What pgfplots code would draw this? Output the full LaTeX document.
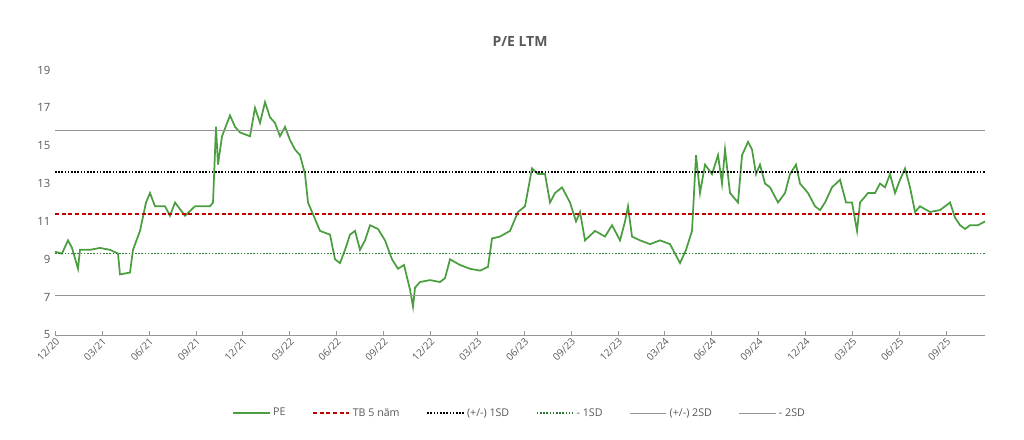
\documentclass[border=0pt]{standalone}
\usepackage{pgfplots}
\pgfplotsset{compat=1.18}
\usepackage{pgfplotstable}
\usepackage{fontspec}
\setmainfont{Open Sans}
\definecolor{pe}{RGB}{74,158,63}
\definecolor{txt}{RGB}{89,89,89}
\definecolor{mred}{RGB}{192,0,0}
\definecolor{sdg}{RGB}{46,125,50}
\definecolor{gl}{RGB}{150,150,150}
\pgfplotstableread{
px y
55 9.4
62 9.3
68 10.0
72 9.6
78 8.5
80 9.5
90 9.5
100 9.6
110 9.5
118 9.3
120 8.2
130 8.3
133 9.5
140 10.5
146 12.0
150 12.5
155 11.8
165 11.8
170 11.3
175 12.0
185 11.3
195 11.8
210 11.8
213 12.0
216 16.0
218 14.0
222 15.5
230 16.6
235 16.0
240 15.7
250 15.5
255 17.0
260 16.2
265 17.3
270 16.5
275 16.2
280 15.5
285 16.0
290 15.3
295 14.8
300 14.5
305 13.5
308 12.0
312 11.5
320 10.5
330 10.3
335 9.0
340 8.8
345 9.5
350 10.3
355 10.5
360 9.5
365 10.0
370 10.8
378 10.6
385 10.0
392 9.0
398 8.5
404 8.7
410 7.4
413 6.5
415 7.5
420 7.8
430 7.9
440 7.8
445 8.0
450 9.0
460 8.7
470 8.5
480 8.4
488 8.6
492 10.1
500 10.2
510 10.5
518 11.5
525 11.8
532 13.8
538 13.5
545 13.5
550 12.0
555 12.5
562 12.8
570 12.0
576 11.0
580 11.5
585 10.0
595 10.5
605 10.2
612 10.8
620 10.0
625 11.0
628 11.8
632 10.2
640 10.0
650 9.8
660 10.0
670 9.8
676 9.2
680 8.8
686 9.5
692 10.5
696 14.5
700 12.5
705 14.0
712 13.5
718 14.5
722 13.0
725 14.8
730 12.5
738 12.0
742 14.5
748 15.2
752 14.8
756 13.5
760 14.0
765 13.0
770 12.8
778 12.0
785 12.5
790 13.5
796 14.0
800 13.0
808 12.5
815 11.8
820 11.6
825 12.0
832 12.8
840 13.2
846 12.0
852 12.0
857 10.5
860 12.0
868 12.5
875 12.5
880 13.0
885 12.8
890 13.5
895 12.5
900 13.2
905 13.8
910 12.8
915 11.5
920 11.8
930 11.5
940 11.6
945 11.8
950 12.0
955 11.2
960 10.8
965 10.6
970 10.8
978 10.8
985 11.0
}\pedata
\begin{document}
\begin{tikzpicture}
\begin{axis}[
  scale only axis, width=697.5pt, height=198.75pt,
  xmin=0, xmax=59.5, ymin=5, ymax=19,
  ytick={5,7,...,19},
  xtick={0,3,...,57},
  xticklabels={12/20,03/21,06/21,09/21,12/21,03/22,06/22,09/22,12/22,03/23,06/23,09/23,12/23,03/24,06/24,09/24,12/24,03/25,06/25,09/25},
  x tick label style={rotate=45, anchor=north east, font=\fontsize{7.5}{8}\selectfont, text=txt, inner sep=1pt},
  y tick label style={font=\fontsize{8.5}{10}\selectfont, text=txt},
  /pgf/number format/assume math mode=true,
  axis x line*=bottom, axis y line*=left,
  separate axis lines,
  x axis line style={draw=gl, -},
  y axis line style={draw=none},
  xtick style={draw=gl}, major tick length=3pt,
  ytick style={draw=none},
  title={\bfseries P/E LTM}, title style={font=\fontsize{10.5}{12}\selectfont, text=txt, yshift=8pt},
  legend columns=6,
  legend style={draw=none, at={(0.5,-0.295)}, anchor=center, font=\fontsize{8}{9}\selectfont, text=txt,
    /tikz/every even column/.append style={column sep=18pt}},
  legend image post style={xscale=1.6},
]
\addplot[draw=pe, line width=1.3pt] table[x expr={(\thisrow{px}-55)/15.63}, y=y] {\pedata};
\addlegendentry{PE}
\addplot[draw=mred, dash pattern=on 3pt off 2pt, line width=1.1pt] coordinates {(0,11.4) (59.5,11.4)};
\addlegendentry{TB 5 năm}
\addplot[draw=black, dash pattern=on 1.2pt off 1.2pt, line width=1.2pt] coordinates {(0,13.6) (59.5,13.6)};
\addlegendentry{(+/-) 1SD}
\addplot[draw=sdg, dash pattern=on 1.2pt off 1.2pt, line width=1.2pt] coordinates {(0,9.3) (59.5,9.3)};
\addlegendentry{- 1SD}
\addplot[draw=gl, line width=1pt] coordinates {(0,15.8) (59.5,15.8)};
\addlegendentry{(+/-) 2SD}
\addplot[draw=gl, line width=1pt] coordinates {(0,7.1) (59.5,7.1)};
\addlegendentry{- 2SD}
\end{axis}
\pgfresetboundingbox
\path[use as bounding box] (-41.25pt,-78pt) rectangle (726.75pt,251.25pt);
\end{tikzpicture}
\end{document}
